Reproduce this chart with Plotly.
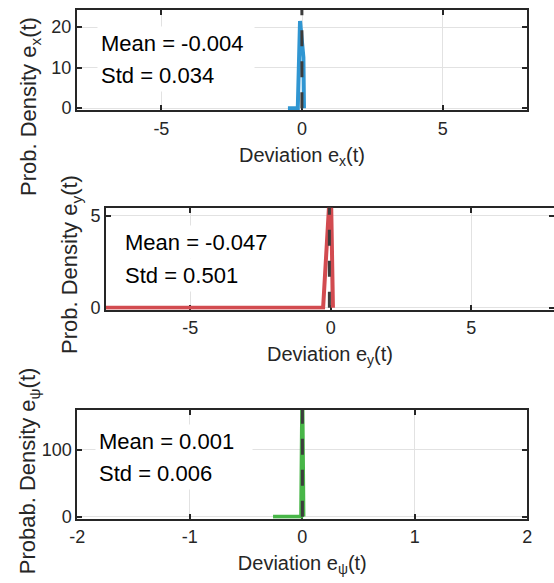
import plotly.graph_objects as go

W, H = 554, 583
FONT = "Liberation Sans"

# ---------------- data ----------------
ex_dev = [-0.50, -0.15, -0.07, 0.05, 0.07]
ex_pdf = [0, 0, 21.5, 12.5, 0]
ex_mean = -0.004
ex_std = 0.034

ey_dev = [-8.5, -0.27, 0.0, 0.08]
ey_pdf = [0, 0, 7.1, 0]
ey_mean = -0.047
ey_std = 0.501

epsi_dev = [-0.26, -0.01, 0.0, 0.01]
epsi_pdf = [0, 0, 190, 0]
epsi_mean = 0.001
epsi_std = 0.006

xy_xticks = [-5, 0, 5]
xy_xticklabels = ["-5", "0", "5"]
psi_xticks = [-2, -1, 0, 1, 2]
psi_xticklabels = ["-2", "-1", "0", "1", "2"]
ex_yticks = [0, 10, 20]
ex_yticklabels = ["0", "10", "20"]
ey_yticks = [0, 5]
ey_yticklabels = ["0", "5"]
epsi_yticks = [0, 100]
epsi_yticklabels = ["0", "100"]

ex_yrange = [-0.45, 24.2]
ey_yrange = [-0.1, 5.45]
epsi_yrange = [-2.8, 160]

BLUE = "#3096D2"
RED = "#D24B50"
GREEN = "#48B648"
DASH = "#3C3C3C"
AX = "#262626"


def px(x):
    return x / W


def py(y):
    return 1 - y / H


fig = go.Figure()

panels = [
    dict(xa="x", ya="y", dev=ex_dev, pdf=ex_pdf, mean=ex_mean, color=BLUE, yr=ex_yrange),
    dict(xa="x2", ya="y2", dev=ey_dev, pdf=ey_pdf, mean=ey_mean, color=RED, yr=ey_yrange),
    dict(xa="x3", ya="y3", dev=epsi_dev, pdf=epsi_pdf, mean=epsi_mean, color=GREEN, yr=epsi_yrange),
]
for p in panels:
    fig.add_trace(go.Scatter(x=p["dev"], y=p["pdf"], mode="lines", xaxis=p["xa"], yaxis=p["ya"],
                             line=dict(color=p["color"], width=4), showlegend=False, hoverinfo="skip"))
    fig.add_trace(go.Scatter(x=[p["mean"], p["mean"]], y=[0, p["yr"][1]], mode="lines",
                             xaxis=p["xa"], yaxis=p["ya"],
                             line=dict(color=DASH, width=3, dash="16px,15px"),
                             showlegend=False, hoverinfo="skip"))

common = dict(showline=True, linecolor=AX, linewidth=2, mirror="ticks", ticks="inside",
              ticklen=5, tickwidth=1.5, tickcolor=AX, showgrid=True, gridcolor="#E2E2E2",
              gridwidth=1, zeroline=False, layer="below traces", automargin=False,
              tickfont=dict(family=FONT, size=18, color=AX), fixedrange=True)

XFS = 20
YFS = 22
sub = lambda c: f"<sub>{c}</sub>"
xtitle_font = dict(family=FONT, size=XFS, color=AX)

fig.update_layout(
    width=W, height=H, margin=dict(l=0, r=0, t=0, b=0, autoexpand=False), autosize=False,
    paper_bgcolor="white", plot_bgcolor="white",
    font=dict(family=FONT, color="black"),
    xaxis=dict(domain=[px(77), px(527)], range=[-8, 8], anchor="y",
               tickmode="array", tickvals=xy_xticks, ticktext=xy_xticklabels,
               ticklabelstandoff=1,
               title=dict(text=f"Deviation e{sub('x')}(t)", font=xtitle_font, standoff=10),
               **common),
    yaxis=dict(domain=[py(110), py(10)], range=ex_yrange, anchor="x",
               tickmode="array", tickvals=ex_yticks, ticktext=ex_yticklabels,
               ticklabelstandoff=0, **common),
    xaxis2=dict(domain=[px(106), 1.0], range=[-8, 7.95], anchor="y2",
                tickmode="array", tickvals=xy_xticks, ticktext=xy_xticklabels,
                ticklabelstandoff=1,
                title=dict(text=f"Deviation e{sub('y')}(t)", font=xtitle_font, standoff=10),
                **common),
    yaxis2=dict(domain=[py(309.5), py(207.7)], range=ey_yrange, anchor="x2",
                tickmode="array", tickvals=ey_yticks, ticktext=ey_yticklabels,
                ticklabelstandoff=0, **common),
    xaxis3=dict(domain=[px(77.3), px(527.3)], range=[-2, 2], anchor="y3",
                tickmode="array", tickvals=psi_xticks, ticktext=psi_xticklabels,
                ticklabelstandoff=1,
                title=dict(text=f"Deviation e{sub('ψ')}(t)", font=xtitle_font, standoff=10),
                **common),
    yaxis3=dict(domain=[py(518.5), py(410)], range=epsi_yrange, anchor="x3",
                tickmode="array", tickvals=epsi_yticks, ticktext=epsi_yticklabels,
                ticklabelstandoff=0, **common),
)

ann = []
# statistics boxes
stats = [
    (97, 42.5, 74.5, ex_mean, ex_std),
    (121, 242, 274.5, ey_mean, ey_std),
    (95, 440.5, 473, epsi_mean, epsi_std),
]
for left, ym, ys, m, s in stats:
    for yc, txt in [(ym, f"Mean = {m:.3f}"), (ys, f"Std = {s:.3f}")]:
        ann.append(dict(text=txt, xref="paper", yref="paper", x=px(left), y=py(yc),
                        xanchor="left", yanchor="middle", align="left", valign="middle",
                        width=150, height=26, borderpad=3, bgcolor="white",
                        showarrow=False, font=dict(family=FONT, size=22, color="black")))

# y-axis titles
ytitles = [(27.5, 195, "Prob. Density e", "x"), (67.5, 353, "Prob. Density e", "y"),
           (25.8, 573, "Probab. Density e", "ψ")]
for xc, yb, t, c in ytitles:
    ann.append(dict(text=f"{t}{sub(c)}(t)", xref="paper", yref="paper",
                    x=px(xc - 0.547 * YFS - 1), y=py(yb + 3), xanchor="left", yanchor="bottom",
                    textangle=-90, showarrow=False,
                    font=dict(family=FONT, size=YFS, color=AX)))

fig.update_layout(annotations=ann)
fig.write_html(
    "out.html",
    config={"responsive": False, "displayModeBar": False},
    post_script="document.body.style.margin='0px';document.body.style.padding='0px';"
                "document.body.style.overflow='hidden';",
)
